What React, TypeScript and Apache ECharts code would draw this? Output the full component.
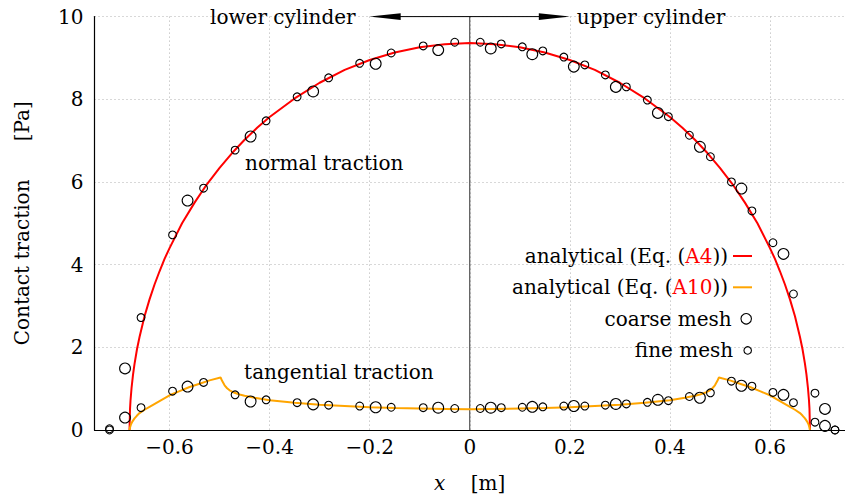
import React, { useEffect, useRef } from 'react';
import * as echarts from 'echarts';

const FONT = '"DejaVu Serif", "Liberation Serif", serif';
const FS = 20;

// axis ranges
const X_MIN = -0.75;
const X_MAX = 0.75;
const Y_MIN = 0;
const Y_MAX = 10;
const Y_INTERVAL = 2;

// analytical normal traction (Eq. A4)
const normalX = [
  -0.68, -0.679, -0.678, -0.676, -0.673, -0.67, -0.665, -0.66, -0.65, -0.64, -0.63, -0.62, -0.61, -0.6,
  -0.575, -0.55, -0.525, -0.5, -0.475, -0.45, -0.425, -0.4, -0.35, -0.3, -0.25, -0.2, -0.15, -0.1, -0.05,
  0, 0.05, 0.1, 0.15, 0.2, 0.25, 0.3, 0.35, 0.4, 0.425, 0.45, 0.475, 0.5, 0.525, 0.55, 0.575, 0.6,
  0.61, 0.62, 0.63, 0.64, 0.65, 0.66, 0.665, 0.67, 0.673, 0.676, 0.678, 0.679, 0.68,
];
const normalY = [
  0, 0.51, 0.72, 1.01, 1.34, 1.6, 1.96, 2.25, 2.75, 3.16, 3.52, 3.84, 4.14, 4.4,
  5.0, 5.5, 5.95, 6.34, 6.7, 7.02, 7.31, 7.57, 8.02, 8.4, 8.71, 8.95, 9.13, 9.26, 9.33,
  9.36, 9.33, 9.26, 9.13, 8.95, 8.71, 8.4, 8.02, 7.57, 7.31, 7.02, 6.7, 6.34, 5.95, 5.5, 5.0, 4.4,
  4.14, 3.84, 3.52, 3.16, 2.75, 2.25, 1.96, 1.6, 1.34, 1.01, 0.72, 0.51, 0,
];

// analytical tangential traction (Eq. A10)
const tangX = [
  -0.68, -0.679, -0.677, -0.674, -0.67, -0.665, -0.66, -0.65, -0.64, -0.62, -0.6, -0.58, -0.56, -0.54,
  -0.52, -0.498, -0.495, -0.49, -0.485, -0.48, -0.47, -0.46, -0.45, -0.43, -0.4, -0.35, -0.3, -0.25,
  -0.2, -0.15, -0.1, -0.05, 0, 0.05, 0.1, 0.15, 0.2, 0.25, 0.3, 0.35, 0.4, 0.43, 0.45, 0.46, 0.47,
  0.48, 0.485, 0.49, 0.495, 0.498, 0.52, 0.54, 0.56, 0.58, 0.6, 0.62, 0.64, 0.65, 0.66, 0.665, 0.67,
  0.674, 0.677, 0.679, 0.68,
];
const tangY = [
  0, 0.06, 0.14, 0.21, 0.28, 0.35, 0.41, 0.49, 0.56, 0.7, 0.84, 0.94, 1.04, 1.12,
  1.2, 1.27, 1.19, 1.08, 1.01, 0.96, 0.9, 0.86, 0.83, 0.78, 0.72, 0.66, 0.61, 0.58,
  0.55, 0.53, 0.52, 0.51, 0.5, 0.51, 0.52, 0.53, 0.55, 0.58, 0.61, 0.66, 0.72, 0.78, 0.83, 0.86, 0.9,
  0.96, 1.01, 1.08, 1.19, 1.27, 1.2, 1.12, 1.04, 0.94, 0.84, 0.7, 0.56, 0.49, 0.41, 0.35, 0.28,
  0.21, 0.14, 0.06, 0,
];

// coarse mesh results
const coarseX = [-0.689, -0.564, -0.438, -0.313, -0.188, -0.063, 0.042, 0.125, 0.208, 0.292, 0.376, 0.46, 0.543, 0.627, 0.71];
const coarseNormal = [1.49, 5.55, 7.1, 8.19, 8.86, 9.19, 9.23, 9.09, 8.79, 8.3, 7.67, 6.85, 5.84, 4.26, 0.51];
const coarseTangential = [0.3, 1.05, 0.69, 0.62, 0.55, 0.54, 0.54, 0.56, 0.58, 0.63, 0.73, 0.78, 1.07, 0.85, 0.1];

// fine mesh results
const fineX = [
  -0.72, -0.657, -0.594, -0.532, -0.469, -0.407, -0.345, -0.282, -0.22, -0.157, -0.093, -0.03,
  0.021, 0.063, 0.105, 0.146, 0.188, 0.23, 0.271, 0.313, 0.355, 0.397, 0.439, 0.481, 0.523, 0.564,
  0.606, 0.647, 0.69, 0.73,
];
const fineNormal = [
  0.03, 2.72, 4.72, 5.85, 6.77, 7.48, 8.06, 8.52, 8.87, 9.12, 9.29, 9.38,
  9.38, 9.34, 9.27, 9.17, 9.02, 8.83, 8.59, 8.3, 7.98, 7.58, 7.13, 6.61, 6.0, 5.3,
  4.53, 3.29, 0.89, 0.0,
];
const fineTangential = [
  0.0, 0.54, 0.94, 1.15, 0.85, 0.73, 0.66, 0.6, 0.58, 0.55, 0.54, 0.52,
  0.52, 0.54, 0.55, 0.56, 0.58, 0.58, 0.6, 0.63, 0.67, 0.71, 0.81, 0.9, 1.18, 1.06,
  0.91, 0.66, 0.19, 0.0,
];

const NAME_A4 = 'analytical (Eq. (A4))';
const NAME_A10 = 'analytical (Eq. (A10))';
const NAME_COARSE = 'coarse mesh';
const NAME_FINE = 'fine mesh';

// annotation anchors in data coordinates
const ARROW_LEFT_X = -0.2;
const ARROW_RIGHT_X = 0.2;
const DIVIDER_X = 0;
const annotations = [
  { text: 'lower cylinder', x: -0.2, y: 10, align: 'right', dx: -14 },
  { text: 'upper cylinder', x: 0.2, y: 10, align: 'left', dx: 7 },
  { text: 'normal traction', x: -0.449, y: 6.45, align: 'left', dx: 0 },
  { text: 'tangential traction', x: -0.451, y: 1.41, align: 'left', dx: 0 },
];

const pairs = (xs: number[], ys: number[]) => xs.map((x, i) => [x, ys[i]]);

const minus = (v: number) => (v === 0 ? '0' : String(+v.toFixed(2)).replace('-', '\u2212'));

export default function App() {
  const ref = useRef<HTMLDivElement>(null);

  useEffect(() => {
    if (!ref.current) return;
    const chart = echarts.init(ref.current, undefined, { renderer: 'svg' });

    const textBase = { fontFamily: FONT, fontSize: FS, color: '#000' };
    const legendRow = (name: string, center: number, itemHeight: number, label: string, extra: any) => ({
      data: [{ name, ...extra }],
      orient: 'horizontal',
      align: 'right',
      right: 93,
      top: center - 10,
      padding: 0,
      itemWidth: 19,
      itemHeight,
      itemGap: 0,
      selectedMode: false,
      formatter: () => label,
      textStyle: { ...textBase, rich: { r: { ...textBase, color: '#ff0000' } } },
    });
    const hollow = { icon: 'circle', itemStyle: { color: 'rgba(0,0,0,0)', borderColor: '#000', borderWidth: 1.1 } };

    const option: any = {
      animation: false,
      backgroundColor: '#fff',
      grid: { left: 94.5, right: -6, top: 16.6, bottom: 74, containLabel: false },
      xAxis: {
        type: 'value',
        min: X_MIN,
        max: X_MAX,
        splitNumber: 7,
        axisLine: { show: true, onZero: false, lineStyle: { color: '#000', width: 1.2 } },
        axisTick: { show: false },
        axisLabel: { ...textBase, margin: 7, showMinLabel: false, showMaxLabel: false, formatter: minus },
        splitLine: { show: true, lineStyle: { color: '#b0b0b0', width: 1, type: [1, 3] } },
        name: '{i|x}    [m]',
        nameLocation: 'middle',
        nameGap: 43,
        nameTextStyle: { ...textBase, rich: { i: { ...textBase, fontStyle: 'italic' } } },
      },
      yAxis: {
        type: 'value',
        min: Y_MIN,
        max: Y_MAX,
        interval: Y_INTERVAL,
        axisLine: { show: true, onZero: false, lineStyle: { color: '#000', width: 1.2 } },
        axisTick: { show: false },
        axisLabel: { ...textBase, margin: 11 },
        splitLine: { show: true, lineStyle: { color: '#b0b0b0', width: 1, type: [1, 3] } },
        name: 'Contact traction      [Pa]',
        nameLocation: 'middle',
        nameGap: 63,
        nameRotate: 90,
        nameTextStyle: { ...textBase },
      },
      legend: [
        legendRow(NAME_A4, 256, 2, 'analytical (Eq. ({r|A4}))', { icon: 'rect', itemStyle: { color: '#ff0000' } }),
        legendRow(NAME_A10, 287.3, 2, 'analytical (Eq. ({r|A10}))', { icon: 'rect', itemStyle: { color: '#ffa500' } }),
        legendRow(NAME_COARSE, 318.8, 10.5, 'coarse mesh', hollow),
        legendRow(NAME_FINE, 350.4, 7.5, 'fine mesh', hollow),
      ],
      series: [
        {
          type: 'custom',
          name: 'annotations',
          silent: true,
          clip: false,
          z: 1,
          data: [[DIVIDER_X, Y_MIN]],
          renderItem: (_params: any, api: any) => {
            const bottom = api.coord([DIVIDER_X, Y_MIN]);
            const top = api.coord([DIVIDER_X, Y_MAX]);
            const aL = api.coord([ARROW_LEFT_X, Y_MAX]);
            const aR = api.coord([ARROW_RIGHT_X, Y_MAX]);
            const head = 31;
            const half = 3.4;
            const children: any[] = [
              { type: 'line', shape: { x1: bottom[0], y1: bottom[1], x2: top[0], y2: top[1] }, style: { stroke: '#333', lineWidth: 1 } },
              { type: 'line', shape: { x1: aL[0] + 4, y1: aL[1], x2: aR[0] - 4, y2: aR[1] }, style: { stroke: '#000', lineWidth: 1 } },
              { type: 'polygon', shape: { points: [[aL[0], aL[1]], [aL[0] + head, aL[1] - half], [aL[0] + head, aL[1] + half]] }, style: { fill: '#000' } },
              { type: 'polygon', shape: { points: [[aR[0], aR[1]], [aR[0] - head, aR[1] - half], [aR[0] - head, aR[1] + half]] }, style: { fill: '#000' } },
            ];
            annotations.forEach((a) => {
              const p = api.coord([a.x, a.y]);
              children.push({
                type: 'text',
                x: p[0] + a.dx,
                y: p[1],
                style: { text: a.text, fill: '#000', fontFamily: FONT, fontSize: FS, align: a.align, verticalAlign: 'middle' },
              });
            });
            return { type: 'group', children };
          },
        },
        {
          type: 'line',
          name: NAME_A4,
          data: pairs(normalX, normalY),
          symbol: 'none',
          showSymbol: false,
          smooth: false,
          clip: false,
          silent: true,
          z: 2,
          lineStyle: { color: '#ff0000', width: 2 },
          itemStyle: { color: '#ff0000' },
        },
        {
          type: 'line',
          name: NAME_A10,
          data: pairs(tangX, tangY),
          symbol: 'none',
          showSymbol: false,
          smooth: false,
          clip: false,
          silent: true,
          z: 2,
          lineStyle: { color: '#ffa500', width: 2 },
          itemStyle: { color: '#ffa500' },
        },
        {
          type: 'scatter',
          name: NAME_COARSE,
          data: [...pairs(coarseX, coarseNormal), ...pairs(coarseX, coarseTangential)],
          symbol: 'circle',
          symbolSize: 10.8,
          clip: false,
          silent: true,
          z: 3,
          itemStyle: { color: 'rgba(0,0,0,0)', borderColor: '#000', borderWidth: 1.1, opacity: 1 },
        },
        {
          type: 'scatter',
          name: NAME_FINE,
          data: [...pairs(fineX, fineNormal), ...pairs(fineX, fineTangential)],
          symbol: 'circle',
          symbolSize: 7.8,
          clip: false,
          silent: true,
          z: 3,
          itemStyle: { color: 'rgba(0,0,0,0)', borderColor: '#000', borderWidth: 1.1, opacity: 1 },
        },
      ],
    };

    chart.setOption(option);
    return () => chart.dispose();
  }, []);

  return (
    <div style={{ position: 'fixed', left: 0, top: 0, width: 845, height: 504, overflow: 'hidden', background: '#fff' }}>
      <div ref={ref} style={{ width: 845, height: 504 }} />
    </div>
  );
}
